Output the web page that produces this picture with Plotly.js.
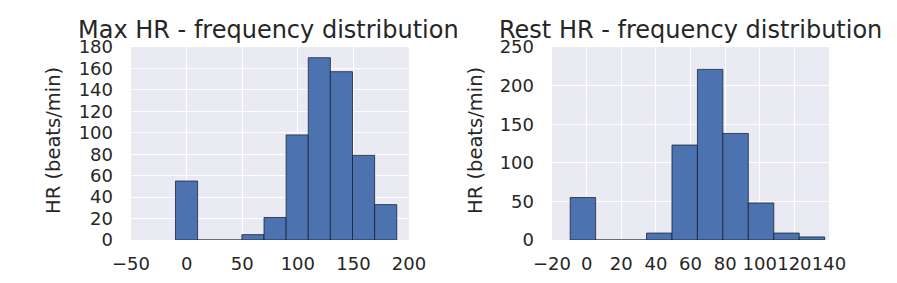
<!DOCTYPE html>
<html>
<head>
<meta charset="utf-8">
<script src="https://cdn.plot.ly/plotly-3.0.1.min.js"></script>
<style>html,body{margin:0;padding:0;background:#fff;}#chart{width:897px;height:283px;}</style>
</head>
<body>
<div id="chart"></div>
<script>
// Max HR histogram: bin edges and counts
const maxHrEdges = [-10, 9.9, 29.8, 49.7, 69.6, 89.5, 109.4, 129.3, 149.2, 169.1, 189];
const maxHrCounts = [55, 0, 0, 5, 21, 98, 170, 157, 79, 33];
// Rest HR histogram: bin edges and counts
const restHrEdges = [-9.5, 5.2, 19.9, 34.6, 49.3, 64.0, 78.7, 93.4, 108.1, 122.8, 137.5];
const restHrCounts = [55, 0, 0, 9, 123, 221, 138, 48, 9, 4];

const maxTitle = 'Max HR - frequency distribution';
const restTitle = 'Rest HR - frequency distribution';
const yLabel = 'HR (beats/min)';

function centers(e){ const c=[]; for(let i=0;i<e.length-1;i++) c.push((e[i]+e[i+1])/2); return c; }
function widths(e){ const w=[]; for(let i=0;i<e.length-1;i++) w.push(e[i+1]-e[i]); return w; }

const barStyle = {color:'#4C72B0', line:{color:'rgba(20,30,50,0.75)', width:1}};
const traces = [
  {type:'bar', x:centers(maxHrEdges), y:maxHrCounts, width:widths(maxHrEdges), marker:barStyle, xaxis:'x', yaxis:'y', hoverinfo:'none'},
  {type:'bar', x:centers(restHrEdges), y:restHrCounts, width:widths(restHrEdges), marker:barStyle, xaxis:'x2', yaxis:'y2', hoverinfo:'none'}
];

const W=897, H=283;
const txt = '#262626';
const font = {family:'DejaVu Sans', color:txt};
function xa(dom, range, dtick){
  return {domain:dom, range:range, dtick:dtick, tick0:0, showgrid:true, gridcolor:'#ffffff', gridwidth:1.2,
    zeroline:false, showline:false, ticks:'', tickangle:0, ticklabelstandoff:11,
    tickfont:{family:'DejaVu Sans', size:18, color:txt}, fixedrange:true};
}
function ya(dom, range, dtick, anchor){
  return {domain:dom, range:range, dtick:dtick, tick0:0, showgrid:true, gridcolor:'#ffffff', gridwidth:1.2,
    zeroline:false, showline:false, ticks:'', anchor:anchor, ticklabelstandoff:17,
    tickfont:{family:'DejaVu Sans', size:18, color:txt}, fixedrange:true};
}
const yDom = [1-240/H, 1-47/H];
const layout = {
  width:W, height:H, margin:{l:0,r:0,t:0,b:0}, paper_bgcolor:'#ffffff', plot_bgcolor:'#EAEAF2',
  showlegend:false, font:font, bargap:0,
  xaxis: Object.assign(xa([131/W, 409/W], [-50, 200], 50), {anchor:'y'}),
  yaxis: ya(yDom, [0, 180], 20, 'x'),
  xaxis2: Object.assign(xa([552/W, 829/W], [-20, 140], 20), {anchor:'y2'}),
  yaxis2: ya(yDom, [0, 250], 50, 'x2'),
  annotations: [
    {text:maxTitle, xref:'paper', yref:'paper', x:268/W, y:1-46/H, xanchor:'center', yanchor:'bottom', showarrow:false, font:{family:'DejaVu Sans', size:24, color:txt}},
    {text:restTitle, xref:'paper', yref:'paper', x:690/W, y:1-46/H, xanchor:'center', yanchor:'bottom', showarrow:false, font:{family:'DejaVu Sans', size:24, color:txt}},
    {text:yLabel, xref:'paper', yref:'paper', x:53/W, y:1-141/H, xanchor:'center', yanchor:'middle', textangle:-90, showarrow:false, font:{family:'DejaVu Sans', size:19.5, color:txt}},
    {text:yLabel, xref:'paper', yref:'paper', x:475/W, y:1-141/H, xanchor:'center', yanchor:'middle', textangle:-90, showarrow:false, font:{family:'DejaVu Sans', size:19.5, color:txt}}
  ]
};
Plotly.newPlot('chart', traces, layout, {staticPlot:true, displayModeBar:false});
</script>
</body>
</html>
